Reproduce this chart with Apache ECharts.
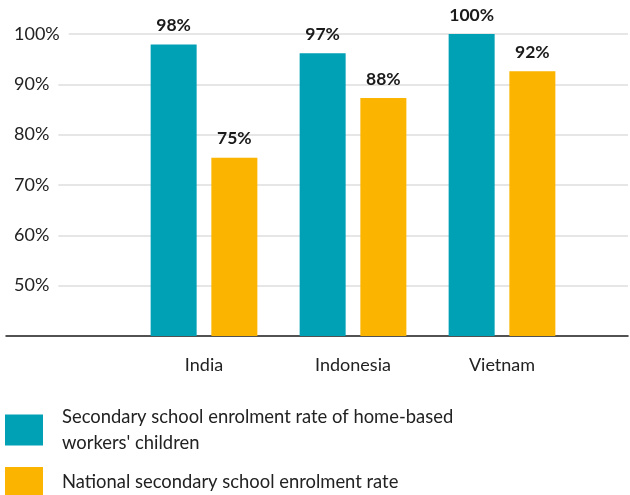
<!DOCTYPE html>
<html>
<head>
<meta charset="utf-8">
<script src="https://cdn.jsdelivr.net/npm/echarts@6/dist/echarts.min.js"></script>
<style>
  html, body { margin: 0; padding: 0; background: #fff; }
  #chart { width: 630px; height: 495px; }
</style>
</head>
<body>
<div id="chart"></div>
<script>
const countries = ['India', 'Indonesia', 'Vietnam']
const homeBased = [97.9, 96.2, 100.2]
const national = [75.4, 87.3, 92.6]
const homeBasedLabels = ['98%', '97%', '100%']
const nationalLabels = ['75%', '88%', '92%']
const seriesNames = [
  "Secondary school enrolment rate of home-based\nworkers' children",
  'National secondary school enrolment rate',
]

const teal = '#00A0B5'
const yellow = '#FBB500'
const font = 'Lato, "Noto Sans", sans-serif'

const barLabel = (labels) => ({
  show: true,
  position: 'top',
  distance: 10,
  fontFamily: font,
  fontWeight: 'bold',
  fontSize: 17.5,
  color: '#1a1a1a',
  formatter: (p) => labels[p.dataIndex],
})

const legendBox = (name, top) => ({
  orient: 'vertical',
  left: 5,
  top: top,
  padding: 0,
  itemWidth: 38,
  itemHeight: 31,
  icon: 'rect',
  selectedMode: false,
  textStyle: {
    fontFamily: font,
    fontSize: 18.4,
    lineHeight: 26,
    color: '#222',
    padding: [0, 0, 0, 14],
  },
  data: [name],
})

const chart = echarts.init(document.getElementById('chart'))

chart.setOption({
  animation: false,
  textStyle: { fontFamily: font },
  grid: [
    { left: 6, right: 2, top: 34, bottom: 159 },
    { left: 129.5, right: 53.5, top: 34, bottom: 159 },
  ],
  xAxis: [
    {
      gridIndex: 0,
      type: 'value',
      min: 0,
      max: 1,
      axisLine: { show: true, onZero: false, lineStyle: { color: '#222', width: 1.5 } },
      axisTick: { show: false },
      axisLabel: { show: false },
      splitLine: { show: false },
    },
    {
      gridIndex: 1,
      type: 'category',
      data: countries,
      axisLine: { show: false },
      axisTick: { show: false },
      axisLabel: {
        margin: 20,
        fontFamily: font,
        fontSize: 18,
        color: '#222',
      },
    },
  ],
  yAxis: [
    {
      gridIndex: 0,
      type: 'value',
      min: 40,
      max: 100,
      interval: 10,
      axisLine: { show: false },
      axisTick: { show: false },
      splitLine: { show: true, lineStyle: { color: '#dedede', width: 1.5 } },
      axisLabel: {
        inside: true,
        margin: 0,
        showMinLabel: false,
        align: 'left',
        fontFamily: font,
        fontSize: 18,
        color: '#222',
        backgroundColor: '#fff',
        padding: [2, 9, 2, 8],
        formatter: (v) => v + '%',
      },
    },
    {
      gridIndex: 1,
      type: 'value',
      min: 40,
      max: 100,
      show: false,
    },
  ],
  legend: [
    legendBox(seriesNames[0], 404),
    legendBox(seriesNames[1], 467),
  ],
  series: [
    {
      name: seriesNames[0],
      type: 'bar',
      xAxisIndex: 1,
      yAxisIndex: 1,
      data: homeBased,
      barWidth: 46,
      barGap: '32%',
      itemStyle: { color: teal },
      label: barLabel(homeBasedLabels),
    },
    {
      name: seriesNames[1],
      type: 'bar',
      xAxisIndex: 1,
      yAxisIndex: 1,
      data: national,
      barWidth: 46,
      barGap: '32%',
      itemStyle: { color: yellow },
      label: barLabel(nationalLabels),
    },
  ],
})
</script>
</body>
</html>
